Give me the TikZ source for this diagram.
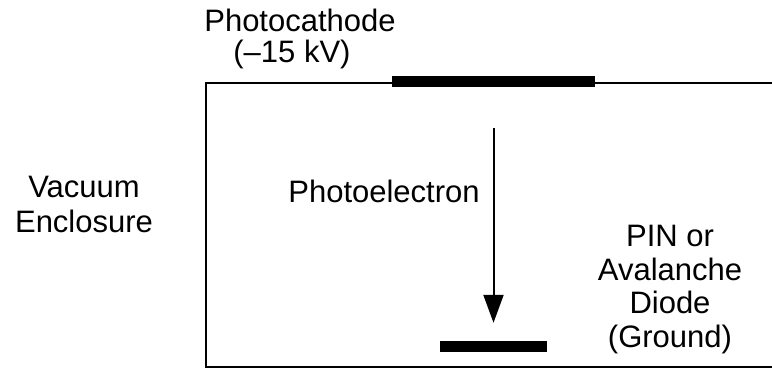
\documentclass[tikz,border=0pt]{standalone}
\usepackage{fontspec}
\setmainfont{Liberation Sans}
\usetikzlibrary{arrows.meta}
\begin{document}
\begin{tikzpicture}[x=1pt,y=1pt,
  lbl/.style={font=\fontsize{31}{33.5}\selectfont, inner sep=0pt, align=center, anchor=base},
  wall/.style={line width=2pt},
  electrode/.style={fill=black, draw=none, inner sep=0pt, minimum height=11pt},
  beam/.style={line width=2pt, -{Triangle[width=20pt,length=28pt]}}]
\useasboundingbox (0,0) rectangle (772,370);
% enclosure (open on the right)
\coordinate (tr) at (772,287);
\coordinate (tl) at (206,287);
\coordinate (bl) at (206,3);
\coordinate (br) at (772,3);
\draw[wall] (tr) -- (tl) -- (bl) -- (br);
% electrodes
\node[electrode, minimum width=203pt] (cathode) at (493.5,288.5) {};
\node[electrode, minimum width=107pt] (anode) at (493.5,23.5) {};
% photoelectron path
\coordinate (estart) at (493.5,242);
\draw[beam] (estart) -- ([yshift=18pt]anode.north);
% labels (base anchor = baseline of last line)
\node[lbl] (lcath) at (300,307) {Photocathode\\[-2pt]\hspace*{-16pt}(–15 kV)};
\node[lbl] (lelec) at (384,167) {Photoelectron};
\node[lbl] (lvac) at (84,137) {Vacuum\\[1.5pt]Enclosure};
\node[lbl] (ldiode) at (670,23) {PIN or\\Avalanche\\Diode\\(Ground)};
\end{tikzpicture}
\end{document}
